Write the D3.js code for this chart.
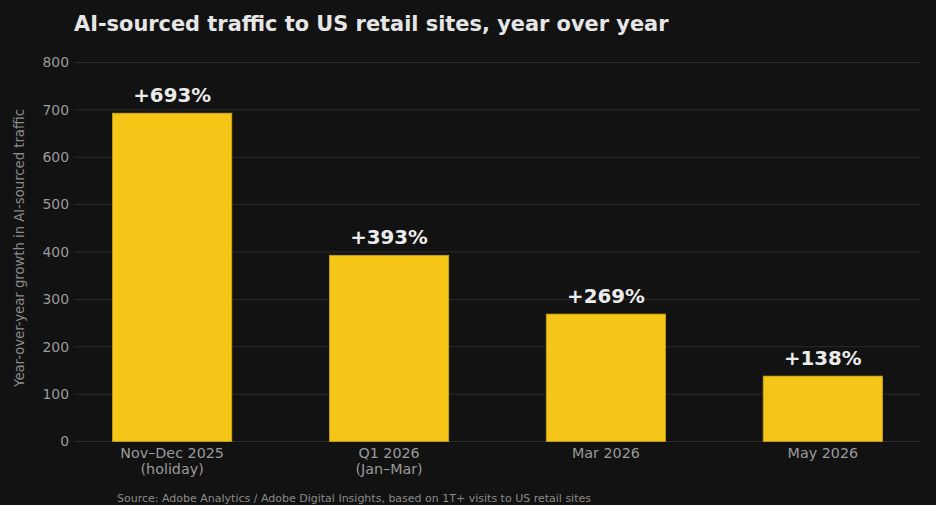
<!DOCTYPE html>
<html><head><meta charset="utf-8">
<script src="https://cdn.jsdelivr.net/npm/d3@7/dist/d3.min.js"></script>
<style>
html,body{margin:0;padding:0;background:#121212;}
svg{display:block;font-family:"DejaVu Sans",sans-serif;}
</style></head>
<body>
<svg id="chart" width="936" height="505"></svg>
<script>
const categories = [["Nov\u2013Dec 2025","(holiday)"],["Q1 2026","(Jan\u2013Mar)"],["Mar 2026"],["May 2026"]];
const values = [693, 393, 269, 138];
const valueLabels = ["+693%","+393%","+269%","+138%"];
const yTicks = [0,100,200,300,400,500,600,700,800];
const title = "AI-sourced traffic to US retail sites, year over year";
const yTitle = "Year-over-year growth in AI-sourced traffic";
const source = "Source: Adobe Analytics / Adobe Digital Insights, based on 1T+ visits to US retail sites";

(function(){
const svg = d3.select("#chart");
const W = 936, H = 505;
svg.append("rect").attr("width",W).attr("height",H).attr("fill","#121212");
const pl = 74, pr = 921, pt = 62.5, pb = 441.5;
const bw = 0.55;
const x = d3.scaleLinear().domain([-0.4525, 3.4525]).range([pl, pr]);
const y = d3.scaleLinear().domain([0, 800]).range([pb, pt]);

svg.append("g").selectAll("line").data(yTicks).join("line")
  .attr("x1", pl).attr("x2", pr)
  .attr("y1", d => y(d)).attr("y2", d => y(d))
  .attr("stroke", "#2b2b2b").attr("stroke-width", 1);

svg.append("g").selectAll("text").data(yTicks).join("text")
  .attr("x", pl - 5).attr("y", d => y(d)).attr("dy","0.35em")
  .attr("text-anchor","end").attr("fill","#9a9a9a").attr("font-size", 13.9)
  .text(d => d);

svg.append("g").selectAll("rect").data(values).join("rect")
  .attr("x", (d,i) => x(i - bw/2)).attr("width", x(bw) - x(0))
  .attr("y", d => y(d)).attr("height", d => y(0) - y(d))
  .attr("fill", "#F5C518").attr("stroke", "#c9a115").attr("stroke-width", 0.8);

svg.append("g").selectAll("text").data(values).join("text")
  .attr("x", (d,i) => x(i)).attr("y", d => y(d) - 11)
  .attr("text-anchor","middle").attr("fill","#ececec")
  .attr("font-size", 19.8).attr("font-weight","bold")
  .text((d,i) => valueLabels[i]);

const xl = svg.append("g").selectAll("text").data(categories).join("text")
  .attr("x", (d,i) => x(i)).attr("y", 458)
  .attr("text-anchor","middle").attr("fill","#9a9a9a").attr("font-size", 14.3);
xl.selectAll("tspan").data((d,i) => d.map(s => ({s, i}))).join("tspan")
  .attr("x", d => x(d.i)).attr("dy", (d,j) => j === 0 ? 0 : 16)
  .text(d => d.s);

svg.append("text")
  .attr("transform", `translate(24,248) rotate(-90)`)
  .attr("text-anchor","middle").attr("fill","#8a8a8a").attr("font-size", 13.2)
  .text(yTitle);

svg.append("text").attr("x", 74).attr("y", 31)
  .attr("fill","#e6e6e6").attr("font-size", 20.9).attr("font-weight","bold")
  .text(title);

svg.append("text").attr("x", 117).attr("y", 502)
  .attr("fill","#8a8a8a").attr("font-size", 11)
  .text(source);
})();
</script>
</body></html>
